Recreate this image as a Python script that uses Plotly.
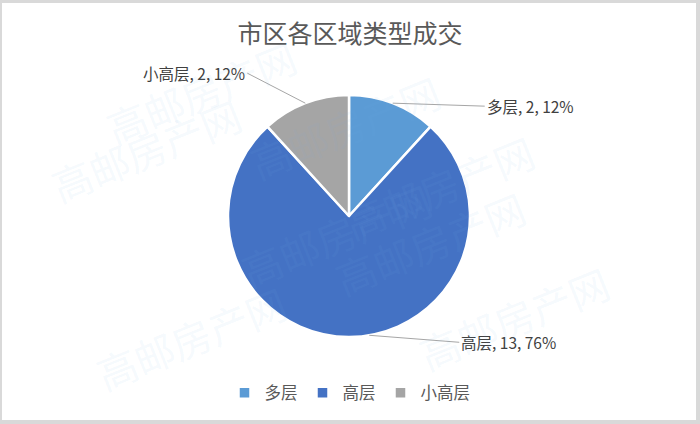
import math
import plotly.graph_objects as go

# ---- data ----
categories = ["多层", "高层", "小高层"]
values = [2, 13, 2]
colors = ["#5B9BD5", "#4472C4", "#A5A5A5"]
title_text = "市区各区域类型成交"
watermark_text = "高邮房产网"

# ---- layout constants ----
W, H = 700, 424
cx, cy, R = 349, 216, 121  # pie centre / radius in pixels

def px_to_paper(x, y):
    return x / W, 1 - y / H

fig = go.Figure()
fig.add_trace(go.Pie(
    labels=categories,
    values=values,
    marker=dict(colors=colors, line=dict(color="white", width=2.5)),
    sort=False,
    direction="clockwise",
    rotation=0,
    textinfo="none",
    hoverinfo="label+value+percent",
    domain=dict(x=[(cx - R) / W, (cx + R) / W], y=[(H - cy - R) / H, (H - cy + R) / H]),
))

# label annotations computed from slice angles
total = sum(values)
label_style = [
    # (angle fraction within slice, ax, ay, xanchor)
    (0.5, 92, 3, "left"),
    (0.465, 90, 7, "left"),
    (0.5, -58, -30, "right"),
]
start = 0.0
annotations = []
for cat, v, (frac, ax, ay, xa) in zip(categories, values, label_style):
    ang = (start + v * frac) / total * 2 * math.pi
    start += v
    hx = cx + R * math.sin(ang)
    hy = cy - R * math.cos(ang)
    px, py = px_to_paper(hx, hy)
    pct = round(v / total * 100)
    annotations.append(dict(
        x=px, y=py, xref="paper", yref="paper",
        text=f"{cat}, {v}, {pct}%",
        showarrow=True, arrowhead=0, arrowwidth=1, arrowcolor="#A6A6A6",
        ax=ax, ay=ay, xanchor=xa, yanchor="middle", standoff=0,
        font=dict(family="Noto Sans CJK SC", size=15.5, color="#404040"),
    ))

# faint watermark texts
wm_positions = [(95, 25), (345, 60), (40, 150), (545, 120), (230, 235), (430, 310), (85, 405), (620, 385)]
for (wx, wy) in wm_positions:
    px, py = px_to_paper(wx, wy)
    annotations.append(dict(
        x=px, y=py, xref="paper", yref="paper", showarrow=False,
        text=watermark_text, textangle=-22,
        font=dict(family="Noto Sans CJK SC", size=40, color="rgba(120,180,230,0.08)"),
    ))

fig.update_layout(
    width=W, height=H,
    margin=dict(l=0, r=0, t=0, b=0, autoexpand=False),
    paper_bgcolor="#D9D9D9",
    title=dict(text=title_text, x=0.5, xanchor="center", y=1 - 34 / H, yanchor="middle",
               font=dict(family="Noto Sans CJK SC", size=25, color="#595959")),
    showlegend=True,
    legend=dict(orientation="h", x=0.5, xanchor="center", y=1 - 393 / H, yanchor="middle",
                font=dict(family="Noto Sans CJK SC", size=16.5, color="#595959"),
                bgcolor="rgba(0,0,0,0)", itemwidth=30, tracegroupgap=0),
    annotations=annotations,
    shapes=[dict(type="rect", xref="paper", yref="paper", layer="below",
                 x0=2 / W, x1=(W - 4) / W, y0=4 / H, y1=(H - 3) / H,
                 fillcolor="white", line=dict(width=0))],
)

fig.write_html("out.html", config={"displayModeBar": False},
               post_script="document.body.style.margin='0';document.body.style.overflow='hidden';")
